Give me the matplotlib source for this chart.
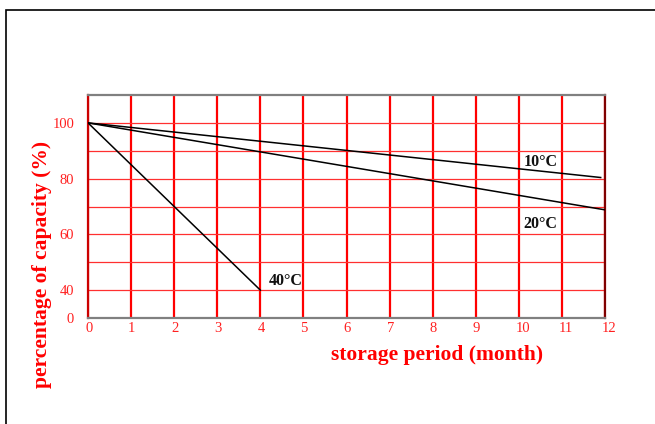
import matplotlib
matplotlib.use("Agg")
import matplotlib.pyplot as plt
from matplotlib.patches import Rectangle
import matplotlib.transforms as mtransforms

# Data
months = list(range(0, 13))
x_10 = [0, 11.9]
y_10 = [100, 80.4]
x_20 = [0, 12]
y_20 = [100, 68.8]
x_40 = [0, 4]
y_40 = [100, 40]
series_labels = ["10°C", "20°C", "40°C"]
label_pos = [(10.5, 86.0), (10.5, 63.7), (4.6, 43.1)]
ytick_vals = [30, 40, 60, 80, 100]
ytick_labels = ["0", "40", "60", "80", "100"]

plt.rcParams['font.family'] = ['Liberation Serif', 'DejaVu Serif']

fig = plt.figure(figsize=(6.55, 4.24), dpi=100)
# figure border (top and left visible)
fig.patches.append(Rectangle((6/655, -0.1), 1.2, 1 - 10/424 + 0.1,
                             transform=fig.transFigure, fill=False,
                             edgecolor='black', linewidth=1.2))

ax = fig.add_axes([88/655, 1 - 318/424, (605-88)/655, (318-95)/424])
ax.set_xlim(0, 12)
ax.set_ylim(30, 110)

# grid
for m in months:
    ax.axvline(m, color='#ff0000', linewidth=1.6, zorder=1)
for v in range(40, 110, 10):
    ax.axhline(v, color='#ff3030', linewidth=0.9, zorder=1)

for xs, ys in [(x_10, y_10), (x_20, y_20), (x_40, y_40)]:
    ax.plot(xs, ys, color='black', linewidth=1.1, zorder=3)

for lab, (lx, ly) in zip(series_labels, label_pos):
    ax.text(lx, ly, lab, fontsize=11.5, fontweight='bold', color='#111111',
            ha='center', va='center', zorder=4)

ax.spines['top'].set_color('#808080')
ax.spines['bottom'].set_color('#808080')
ax.spines['left'].set_color('#cc0000')
ax.spines['right'].set_color('#800000')
for s in ax.spines.values():
    s.set_linewidth(1.6)

ax.set_xticks(months)
ax.set_xticklabels([str(m) for m in months])
ax.set_yticks(ytick_vals)
ax.set_yticklabels(ytick_labels)
ax.tick_params(axis='both', length=0, colors='#ff2020', labelsize=10.5)
ax.tick_params(axis='x', pad=3)
ax.tick_params(axis='y', pad=10)
for t in ax.get_xticklabels():
    t.set_ha('left')
offset = mtransforms.ScaledTranslation(-3/100, 0, fig.dpi_scale_trans)
for t in ax.get_xticklabels():
    t.set_transform(t.get_transform() + offset)

fig.text(437/655, 1 - 355/424, "storage period (month)", color='#ff0000',
         fontsize=15.5, fontweight='bold', ha='center', va='center')
fig.text(42/655, 1 - 264/424, "percentage of capacity (%)", color='#ff0000',
         fontsize=15.5, fontweight='bold', ha='center', va='center', rotation=90)

fig.savefig("out.png", dpi=100)
